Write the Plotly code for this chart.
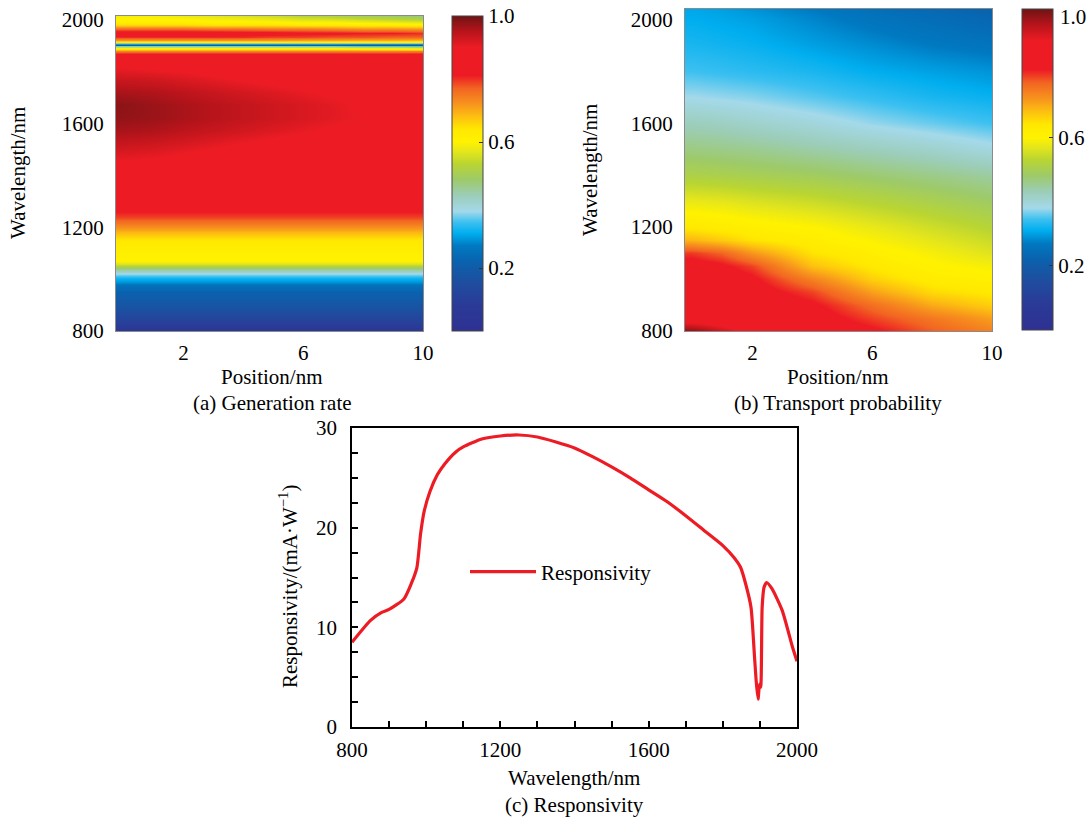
import plotly.graph_objects as go

# ---------------- data ----------------
# (a) Generation rate: rows = wavelength (nm), columns = position (nm)
gen_position = [0, 1, 2, 3, 4, 5, 6, 7, 8, 9, 10]
gen_wavelength = [800, 830, 870, 910, 950, 975, 990, 1003, 1015, 1025, 1035, 1045, 1058, 1070,
                  1090, 1120, 1150, 1180, 1210, 1240, 1280, 1350, 1420, 1470, 1520, 1570, 1620,
                  1670, 1720, 1770, 1810, 1850, 1868, 1880, 1888, 1894, 1899, 1903, 1907, 1911,
                  1916, 1924, 1935, 1950, 1965, 1980, 1995, 2015]
gen_rate = [
    [0.06, 0.06, 0.06, 0.06, 0.06, 0.06, 0.06, 0.06, 0.06, 0.06, 0.06],
    [0.10, 0.10, 0.10, 0.10, 0.10, 0.10, 0.10, 0.10, 0.10, 0.10, 0.10],
    [0.15, 0.15, 0.15, 0.15, 0.15, 0.15, 0.15, 0.15, 0.15, 0.15, 0.15],
    [0.19, 0.19, 0.19, 0.19, 0.19, 0.19, 0.19, 0.19, 0.19, 0.19, 0.19],
    [0.22, 0.22, 0.22, 0.22, 0.22, 0.22, 0.22, 0.22, 0.22, 0.22, 0.22],
    [0.25, 0.25, 0.25, 0.25, 0.25, 0.25, 0.25, 0.25, 0.25, 0.25, 0.25],
    [0.29, 0.29, 0.29, 0.29, 0.29, 0.29, 0.29, 0.29, 0.29, 0.29, 0.29],
    [0.32, 0.32, 0.32, 0.32, 0.32, 0.32, 0.32, 0.32, 0.32, 0.32, 0.32],
    [0.36, 0.36, 0.36, 0.36, 0.36, 0.36, 0.36, 0.36, 0.36, 0.36, 0.36],
    [0.39, 0.39, 0.39, 0.39, 0.39, 0.39, 0.39, 0.39, 0.39, 0.39, 0.39],
    [0.44, 0.44, 0.44, 0.44, 0.44, 0.44, 0.44, 0.44, 0.44, 0.44, 0.44],
    [0.50, 0.50, 0.50, 0.50, 0.50, 0.50, 0.50, 0.50, 0.50, 0.50, 0.50],
    [0.56, 0.56, 0.56, 0.56, 0.56, 0.56, 0.56, 0.56, 0.56, 0.56, 0.56],
    [0.60, 0.60, 0.60, 0.60, 0.60, 0.60, 0.60, 0.60, 0.60, 0.60, 0.60],
    [0.61, 0.61, 0.61, 0.61, 0.61, 0.61, 0.61, 0.61, 0.61, 0.61, 0.61],
    [0.62, 0.62, 0.62, 0.62, 0.62, 0.62, 0.62, 0.62, 0.62, 0.62, 0.62],
    [0.64, 0.64, 0.64, 0.64, 0.64, 0.64, 0.64, 0.64, 0.64, 0.64, 0.64],
    [0.69, 0.69, 0.69, 0.69, 0.69, 0.69, 0.69, 0.69, 0.69, 0.69, 0.69],
    [0.74, 0.74, 0.74, 0.74, 0.74, 0.74, 0.74, 0.74, 0.74, 0.74, 0.74],
    [0.79, 0.79, 0.79, 0.79, 0.79, 0.79, 0.79, 0.79, 0.79, 0.79, 0.79],
    [0.83, 0.83, 0.83, 0.83, 0.83, 0.83, 0.83, 0.83, 0.83, 0.83, 0.83],
    [0.85, 0.85, 0.85, 0.85, 0.85, 0.85, 0.85, 0.85, 0.85, 0.85, 0.85],
    [0.88, 0.87, 0.86, 0.86, 0.86, 0.86, 0.86, 0.86, 0.86, 0.86, 0.86],
    [0.91, 0.905, 0.895, 0.885, 0.875, 0.865, 0.86, 0.86, 0.86, 0.86, 0.86],
    [0.935, 0.93, 0.92, 0.91, 0.90, 0.89, 0.88, 0.875, 0.87, 0.865, 0.86],
    [0.96, 0.955, 0.945, 0.935, 0.925, 0.915, 0.905, 0.895, 0.885, 0.875, 0.865],
    [0.975, 0.97, 0.96, 0.95, 0.94, 0.93, 0.92, 0.91, 0.90, 0.885, 0.87],
    [0.98, 0.97, 0.96, 0.95, 0.94, 0.93, 0.92, 0.91, 0.895, 0.88, 0.87],
    [0.96, 0.955, 0.945, 0.935, 0.925, 0.915, 0.905, 0.895, 0.88, 0.87, 0.86],
    [0.935, 0.93, 0.92, 0.91, 0.90, 0.89, 0.88, 0.87, 0.865, 0.86, 0.86],
    [0.905, 0.90, 0.895, 0.885, 0.875, 0.87, 0.865, 0.86, 0.86, 0.86, 0.86],
    [0.86, 0.86, 0.86, 0.86, 0.86, 0.86, 0.86, 0.86, 0.86, 0.86, 0.86],
    [0.82, 0.82, 0.82, 0.82, 0.82, 0.82, 0.82, 0.82, 0.82, 0.82, 0.82],
    [0.74, 0.74, 0.74, 0.74, 0.74, 0.74, 0.74, 0.74, 0.74, 0.74, 0.74],
    [0.64, 0.64, 0.64, 0.64, 0.64, 0.64, 0.64, 0.64, 0.63, 0.63, 0.62],
    [0.55, 0.55, 0.55, 0.55, 0.55, 0.55, 0.55, 0.55, 0.54, 0.54, 0.53],
    [0.36, 0.36, 0.36, 0.36, 0.36, 0.36, 0.36, 0.36, 0.35, 0.35, 0.35],
    [0.20, 0.20, 0.20, 0.20, 0.20, 0.20, 0.20, 0.20, 0.19, 0.19, 0.19],
    [0.30, 0.30, 0.30, 0.30, 0.30, 0.30, 0.30, 0.30, 0.29, 0.29, 0.29],
    [0.45, 0.45, 0.45, 0.45, 0.45, 0.45, 0.45, 0.45, 0.44, 0.44, 0.44],
    [0.62, 0.62, 0.62, 0.62, 0.62, 0.62, 0.62, 0.61, 0.61, 0.61, 0.60],
    [0.72, 0.72, 0.72, 0.72, 0.72, 0.72, 0.71, 0.71, 0.70, 0.70, 0.69],
    [0.80, 0.80, 0.80, 0.80, 0.80, 0.79, 0.79, 0.78, 0.78, 0.77, 0.77],
    [0.84, 0.84, 0.84, 0.84, 0.83, 0.83, 0.82, 0.82, 0.81, 0.81, 0.80],
    [0.77, 0.77, 0.77, 0.76, 0.76, 0.75, 0.75, 0.74, 0.73, 0.73, 0.72],
    [0.66, 0.66, 0.66, 0.65, 0.65, 0.65, 0.64, 0.64, 0.63, 0.63, 0.62],
    [0.61, 0.61, 0.61, 0.60, 0.60, 0.59, 0.58, 0.58, 0.57, 0.56, 0.55],
    [0.59, 0.59, 0.58, 0.57, 0.56, 0.55, 0.53, 0.52, 0.50, 0.49, 0.47],
]

# (b) Transport probability
tp_position = [0, 1, 2, 4, 6, 8, 10]
tp_wavelength = [800, 850, 900, 950, 1000, 1050, 1100, 1150, 1200, 1300, 1400, 1500,
                 1600, 1700, 1800, 1900, 2000, 2040]
tp_prob = [
    [0.98, 0.93, 0.88, 0.855, 0.82, 0.775, 0.74],
    [0.86, 0.855, 0.85, 0.835, 0.79, 0.75, 0.71],
    [0.855, 0.85, 0.845, 0.82, 0.76, 0.70, 0.665],
    [0.85, 0.845, 0.835, 0.79, 0.71, 0.655, 0.635],
    [0.845, 0.835, 0.82, 0.74, 0.665, 0.625, 0.61],
    [0.835, 0.82, 0.79, 0.68, 0.635, 0.605, 0.59],
    [0.795, 0.77, 0.72, 0.645, 0.615, 0.59, 0.565],
    [0.69, 0.67, 0.645, 0.62, 0.595, 0.57, 0.545],
    [0.635, 0.625, 0.615, 0.60, 0.575, 0.55, 0.525],
    [0.575, 0.57, 0.56, 0.545, 0.525, 0.505, 0.485],
    [0.51, 0.505, 0.50, 0.49, 0.475, 0.46, 0.445],
    [0.465, 0.46, 0.455, 0.44, 0.425, 0.41, 0.39],
    [0.425, 0.42, 0.41, 0.395, 0.375, 0.36, 0.345],
    [0.38, 0.375, 0.37, 0.355, 0.34, 0.325, 0.315],
    [0.345, 0.34, 0.335, 0.325, 0.31, 0.30, 0.29],
    [0.325, 0.32, 0.315, 0.30, 0.285, 0.27, 0.26],
    [0.31, 0.305, 0.30, 0.28, 0.26, 0.245, 0.23],
    [0.305, 0.30, 0.29, 0.27, 0.25, 0.235, 0.22],
]

# (c) Responsivity
resp_wavelength = [800, 850, 880, 900, 940, 960, 975, 985, 995, 1010, 1030, 1050, 1080, 1100,
                   1150, 1200, 1250, 1300, 1350, 1400, 1450, 1500, 1550, 1600, 1650, 1700,
                   1750, 1800, 1830, 1848, 1862, 1876, 1885, 1890, 1895, 1899, 1902, 1906,
                   1911, 1918, 1932, 1960, 1988, 2000]
resp_value = [8.5, 10.7, 11.5, 11.8, 12.85, 14.4, 16.0, 19.4, 21.7, 23.6, 25.3, 26.4, 27.6, 28.1,
              28.9, 29.2, 29.3, 29.1, 28.6, 28.0, 27.1, 26.1, 25.0, 23.8, 22.6, 21.2,
              19.7, 18.2, 17.0, 16.0, 14.3, 12.0, 7.3, 4.6, 2.8, 4.3, 4.0, 12.0,
              14.0, 14.5, 13.9, 11.7, 8.0, 6.6]

cbar_ticks_a = [0.2, 0.6, 1.0]
cbar_text_a = ["0.2", "0.6", "1.0"]
cbar_ticks_b = [0.2, 0.6]
cbar_text_b = ["0.2", "0.6"]

# ---------------- style ----------------
W, H = 1092, 821
FONT = "Liberation Serif"
FS = 21

colorscale = [
    [0.00, "#2e3192"], [0.08, "#2b3a96"], [0.16, "#1d4fa0"], [0.22, "#0a62ae"],
    [0.27, "#0079c1"], [0.31, "#00aeef"], [0.345, "#3cc0f0"], [0.38, "#a4d9ea"],
    [0.43, "#9ccdb8"], [0.48, "#9dca6a"], [0.53, "#b9d532"], [0.57, "#e5e61b"],
    [0.60, "#fff200"], [0.64, "#ffe800"], [0.68, "#fdc010"], [0.72, "#f7941d"],
    [0.77, "#f26522"], [0.81, "#ed1c24"], [0.90, "#ed1c24"], [0.95, "#b8141b"],
    [1.00, "#6e1414"],
]


def px_x(p):
    return p / W


def px_y(p):
    return 1 - p / H


def cbar(left, top, bottom, tv, tt):
    return dict(
        x=px_x(left), xanchor="left", xpad=0,
        y=px_y(top), yanchor="top", ypad=0,
        len=bottom - top, lenmode="pixels", thickness=31, thicknessmode="pixels",
        outlinecolor="#444444", outlinewidth=1,
        tickvals=tv, ticktext=tt, ticks="inside", ticklen=4,
        tickcolor="#333333", tickfont=dict(family=FONT, size=FS, color="black"),
    )


fig = go.Figure()

fig.add_trace(go.Heatmap(
    x=gen_position, y=gen_wavelength, z=gen_rate, zmin=0, zmax=1, zsmooth="best",
    colorscale=colorscale, colorbar=cbar(452, 16, 331, cbar_ticks_a, cbar_text_a),
    xaxis="x", yaxis="y",
))
fig.add_trace(go.Heatmap(
    x=tp_position, y=tp_wavelength, z=tp_prob, zmin=0, zmax=1, zsmooth="best",
    colorscale=colorscale, colorbar=cbar(1022, 9, 330, cbar_ticks_b, cbar_text_b),
    xaxis="x2", yaxis="y2",
))
fig.add_trace(go.Scatter(
    x=resp_wavelength, y=resp_value, mode="lines", name="Responsivity",
    line=dict(color="#ed1c24", width=3.2, shape="spline", smoothing=0.6),
    xaxis="x3", yaxis="y3",
))

tickfont = dict(family=FONT, size=FS, color="black")
hm_axis = dict(showline=True, mirror=True, linecolor="#8a8a8a", linewidth=1,
               showgrid=False, zeroline=False, ticks="", tickfont=tickfont, automargin=False)

fig.update_layout(
    width=W, height=H, margin=dict(l=0, r=0, t=0, b=0, autoexpand=False),
    paper_bgcolor="white", plot_bgcolor="white",
    font=dict(family=FONT, size=FS, color="black"),
    xaxis=dict(hm_axis, domain=[px_x(116), px_x(423)], range=[-0.25, 10],
               tickvals=[2, 6, 10], anchor="y", ticklabelstandoff=3),
    yaxis=dict(hm_axis, domain=[px_y(331), px_y(16)], range=[800, 2015],
               tickvals=[800, 1200, 1600, 2000], anchor="x", ticklabelstandoff=7),
    xaxis2=dict(hm_axis, domain=[px_x(685), px_x(992)], range=[-0.25, 10],
                tickvals=[2, 6, 10], anchor="y2", ticklabelstandoff=3),
    yaxis2=dict(hm_axis, domain=[px_y(331), px_y(9)], range=[800, 2040],
                tickvals=[800, 1200, 1600, 2000], anchor="x2", ticklabelstandoff=7),
    xaxis3=dict(domain=[px_x(352), px_x(797)], range=[800, 2000], anchor="y3",
                showline=True, mirror=True, linecolor="black", linewidth=1.5,
                showgrid=False, zeroline=False, ticks="inside", ticklen=6, tickwidth=1.5,
                tickcolor="black", dtick=400, tick0=800, tickfont=tickfont, automargin=False,
                minor=dict(dtick=100, ticks="inside", ticklen=6, tickcolor="black", showgrid=False),
                ticklabelstandoff=3),
    yaxis3=dict(domain=[px_y(727), px_y(428)], range=[0, 30], anchor="x3",
                showline=True, mirror=True, linecolor="black", linewidth=1.5,
                showgrid=False, zeroline=False, ticks="inside", ticklen=6, tickwidth=1.5,
                tickcolor="black", dtick=10, tick0=0, tickfont=tickfont, automargin=False,
                minor=dict(dtick=2.5, ticks="inside", ticklen=6, tickcolor="black", showgrid=False),
                ticklabelstandoff=9),
    showlegend=True,
    legend=dict(x=px_x(465), y=px_y(572), xanchor="left", yanchor="middle", itemwidth=66,
                bgcolor="rgba(0,0,0,0)", font=dict(family=FONT, size=FS, color="black")),
)


def ann(text, x, y, angle=0, xanchor="center"):
    fig.add_annotation(text=text, x=px_x(x), y=px_y(y), xref="paper", yref="paper",
                       showarrow=False, textangle=angle, xanchor=xanchor, yanchor="middle",
                       font=dict(family=FONT, size=FS, color="black"))


ann("Wavelength/nm", 18, 173, -90)
ann("Position/nm", 272, 377)
ann("(a) Generation rate", 272, 403)
ann("Wavelength/nm", 590, 170, -90)
ann("Position/nm", 838, 377)
ann("(b) Transport probability", 838, 403)
ann("Responsivity/(mA·W<sup>−1</sup>)", 288, 587, -90)
ann("Wavelength/nm", 574, 778)
ann("(c) Responsivity", 574, 805)
# top label of the (b) colour bar, sitting just below the bar's upper end as in the reference
ann("1.0", 1058, 17, 0, "left")

fig.write_html("out.html")
